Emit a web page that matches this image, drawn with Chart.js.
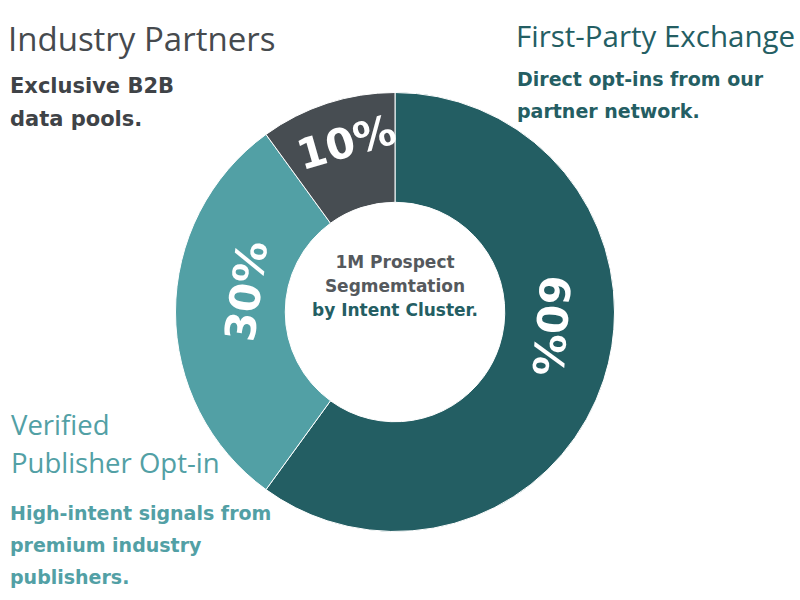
<!DOCTYPE html>
<html><head><meta charset="utf-8">
<script src="https://cdn.jsdelivr.net/npm/chart.js@4/dist/chart.umd.min.js"></script>
<style>
body{margin:0;width:800px;height:600px;background:#fff;position:relative;overflow:hidden;font-family:"Open Sans",sans-serif}
.t{position:absolute;white-space:nowrap}
.b{font-family:"DejaVu Sans",sans-serif;font-weight:700}
#wrap{position:absolute;left:175px;top:92px;width:440px;height:440px}
</style></head><body>
<div class="t" style="left:8px;top:16px;font-size:33px;color:#464a4e">Industry Partners</div>
<div class="t b" style="left:10px;top:70px;font-size:21px;color:#3f4347;line-height:33px">Exclusive B2B<br>data pools.</div>
<div class="t" style="left:516px;top:15px;font-size:29.5px;color:#245e63">First-Party Exchange</div>
<div class="t b" style="left:517px;top:63px;font-size:19px;color:#245e63;line-height:32px">Direct opt-ins from our<br>partner network.</div>
<div class="t" style="left:11px;top:406px;font-size:27.5px;color:#52a0a5;line-height:38px">Verified<br>Publisher Opt-in</div>
<div class="t b" style="left:10px;top:497px;font-size:19px;color:#52a0a5;line-height:32px">High-intent signals from<br>premium industry<br>publishers.</div>
<div class="t b" style="left:295px;top:250px;width:200px;text-align:center;font-size:17px;color:#55595d;line-height:24px">1M Prospect<br>Segmemtation<br><span style="color:#245e63">by Intent Cluster.</span></div>
<div id="wrap"><canvas id="c"></canvas></div>
<script>
const categories=["First-Party Exchange","Verified Publisher Opt-in","Industry Partners"];
const values=[60,30,10];
const labels=["60%","30%","10%"];
const colors=["#235e63","#52a0a5","#474d52"];
// label angle offsets (deg, relative to arc middle) and radius fraction within ring
const labelShift=[-13,8,2];
const labelRadius=[0.93,0.89,1.05];
const pctPlugin={id:"pct",afterDatasetsDraw(chart){
 const ctx=chart.ctx;const meta=chart.getDatasetMeta(0);
 meta.data.forEach((arc,i)=>{
  const mid=(arc.startAngle+arc.endAngle)/2+labelShift[i]*Math.PI/180;
  const r=(arc.innerRadius+arc.outerRadius)/2*labelRadius[i];
  const x=arc.x+Math.cos(mid)*r,y=arc.y+Math.sin(mid)*r;
  ctx.save();ctx.translate(x,y);ctx.rotate(mid+Math.PI/2);
  ctx.fillStyle="#fff";ctx.font="bold 42px 'DejaVu Sans'";ctx.textAlign="center";ctx.textBaseline="middle";
  ctx.fillText(labels[i],0,0);ctx.restore();
 });}};
new Chart(document.getElementById("c"),{type:"doughnut",
 data:{labels:categories,datasets:[{data:values,backgroundColor:colors,borderColor:"#fff",borderWidth:1}]},
 options:{responsive:true,maintainAspectRatio:false,animation:false,cutout:"50%",layout:{padding:0},
  plugins:{legend:{display:false},tooltip:{enabled:false}}},
 plugins:[pctPlugin]});
</script></body></html>
